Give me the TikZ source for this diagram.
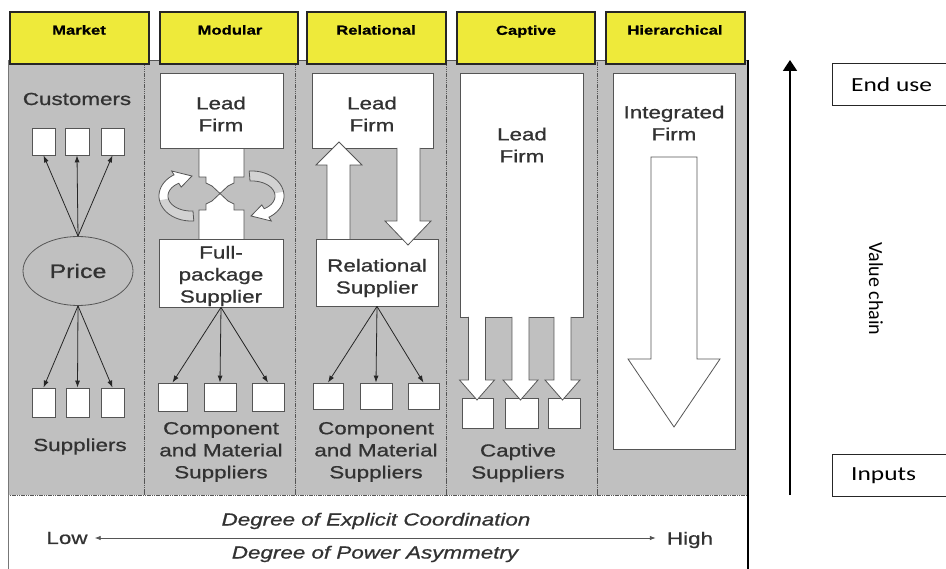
\documentclass[tikz,border=0pt]{standalone}
\usepackage{fontspec}
\usepackage{graphicx}
\usetikzlibrary{arrows.meta,shapes.geometric}
\newfontfamily\dfont{Liberation Sans}[FakeStretch=1.28,FakeBold=0.8]
\newfontfamily\cfont{Carlito}[FakeStretch=1.27]
\newfontfamily\vfont{Carlito}
\definecolor{panel}{RGB}{192,192,192}
\definecolor{hdr}{RGB}{238,234,58}
\definecolor{tcol}{RGB}{50,50,50}
\definecolor{edge}{RGB}{85,85,85}
\newcommand{\circband}[1]{\path[#1] plot[domain=275:122,samples=40] ({191+32*cos(\x)},{196-25*sin(\x)}) -- ({191+36.5*cos(122)},{196-29.5*sin(122)}) -- ({191+27.5*cos(88)},{196-20*sin(88)}) -- ({191+18.5*cos(122)},{196-10.5*sin(122)}) -- plot[domain=122:275,samples=40] ({191+23*cos(\x)},{196-15*sin(\x)}) -- cycle;}
\newcommand{\circtail}[1]{\path[#1] plot[domain=275:190,samples=30] ({191+32*cos(\x)},{196-25*sin(\x)}) -- plot[domain=190:275,samples=30] ({191+23*cos(\x)},{196-15*sin(\x)}) -- cycle;}
\tikzset{
 wbox/.style={draw=edge, fill=white, line width=0.8pt, inner sep=0pt},
 hbox/.style={draw=black!85, fill=hdr, line width=1.2pt, inner sep=0pt, minimum height=52pt},
 htxt/.style={font=\dfont\bfseries\fontsize{13}{15}\selectfont, text=black, inner sep=0pt},
 btxt/.style={font=\dfont\fontsize{17.5}{22}\selectfont, text=tcol, align=center, inner sep=0pt},
 itxt/.style={font=\dfont\itshape\fontsize{17.5}{22}\selectfont, text=tcol, inner sep=0pt},
 rtxt/.style={font=\cfont\fontsize{20}{24}\selectfont, text=black, inner sep=0pt},
 con/.style={draw=black!85, line width=0.8pt, -{Latex[length=7pt,width=5pt]}},
 hol/.style={draw=edge, fill=white, line width=0.8pt, line join=miter},
 colsep/.style={draw=edge, line width=0.9pt, dash pattern=on 1.5pt off 0.7pt},
}
\begin{document}
\begin{tikzpicture}[x=1pt,y=-1pt]
\useasboundingbox (0,0) rectangle (946,569);
% frame and panel
\fill[panel] (8,60) rectangle (748,495);
\draw[edge, line width=0.8pt] (8,60) -- (748,60);
\draw[edge, line width=0.8pt, dash pattern=on 1.2pt off 0.6pt] (8,495) -- (748,495);
\draw[edge!80, line width=1pt] (8,60) -- (8,569);
\draw[black, line width=1.8pt] (748,60) -- (748,569);
\foreach \sx in {144,295,446,597} \draw[colsep] (\sx,60) -- (\sx,495);
% headers
\node[hbox, minimum width=139pt] (hm) at (79.5,38) {};
\node[hbox, minimum width=138pt] (hmo) at (229,38) {};
\node[hbox, minimum width=139pt] (hr) at (376.5,38) {};
\node[hbox, minimum width=138pt] (hc) at (526,38) {};
\node[hbox, minimum width=139pt] (hh) at (675.5,38) {};
\node[htxt] (tm) at (79,30) {Market};
\node[htxt] (tmo) at (230,30) {Modular};
\node[htxt] (tr) at (376,30) {Relational};
\node[htxt] (tc) at (526,31.5) {Captive};
\node[htxt] (th) at (675,30) {Hierarchical};
% ---- column 1 : market
\node[btxt] (tcust) at (77,99) {Customers};
\node[wbox, minimum width=23pt, minimum height=27pt] (cu1) at (43.5,141.5) {};
\node[wbox, minimum width=24pt, minimum height=27pt] (cu2) at (77,141.5) {};
\node[wbox, minimum width=23pt, minimum height=27pt] (cu3) at (112.5,141.5) {};
\node[ellipse, draw=edge, fill=panel, line width=0.8pt, minimum width=110pt, minimum height=69pt, inner sep=0pt, font=\dfont\fontsize{19.5}{22}\selectfont, text=tcol] (price) at (78,271) {Price};
\node[wbox, minimum width=23pt, minimum height=29pt] (su1) at (43.5,402.5) {};
\node[wbox, minimum width=23pt, minimum height=29pt] (su2) at (77.5,402.5) {};
\node[wbox, minimum width=23pt, minimum height=29pt] (su3) at (112.5,402.5) {};
\node[btxt] (tsup1) at (80,446.5) {Suppliers};
\foreach \b in {cu1,cu2,cu3} \draw[con] (price.north) -- (\b.south);
\foreach \b in {su1,su2,su3} \draw[con] (price.south) -- (\b.north);
% ---- column 2 : modular
\draw[hol] (199,146) -- (244,146) -- (244,177) -- (234,177) -- (234,183) -- (228,186) -- (220,193.5) -- (212,186) -- (206,183) -- (206,177) -- (199,177) -- cycle;
\draw[hol] (199,241) -- (244,241) -- (244,210) -- (234,210) -- (234,204) -- (228,201) -- (220,193.5) -- (212,201) -- (206,204) -- (206,210) -- (199,210) -- cycle;
\node[wbox, minimum width=123pt, minimum height=75pt] (lf2) at (221.5,110.5) {};
\node[wbox, minimum width=124pt, minimum height=68pt] (fps) at (221,273) {};
\node[btxt] (tlf2) at (221,114) {Lead\\Firm};
\node[btxt] (tfps) at (221,276) {Full-\\package\\Supplier};
\circband{fill=white}
\circtail{fill=gray!35}
\circband{draw=edge, line width=0.8pt}
\begin{scope}[rotate around={180:(221.5,196)}]
\circband{fill=white}
\circtail{fill=gray!35}
\circband{draw=edge, line width=0.8pt}
\end{scope}
\node[wbox, minimum width=29pt, minimum height=28pt] (m1) at (172.5,397) {};
\node[wbox, minimum width=32pt, minimum height=28pt] (m2) at (220,397) {};
\node[wbox, minimum width=32pt, minimum height=28pt] (m3) at (268,397) {};
\foreach \b in {m1,m2,m3} \draw[con] (fps.south) -- (\b.north);
\node[btxt] (tcm2) at (221,452) {Component\\and Material\\Suppliers};
% ---- column 3 : relational
\node[wbox, minimum width=121pt, minimum height=75pt] (lf3) at (372.5,110.5) {};
\node[wbox, minimum width=122pt, minimum height=67pt] (rs) at (377,272.5) {};
\node[btxt] (tlf3) at (372,114) {Lead\\Firm};
\node[btxt] (trs) at (377,278) {Relational\\Supplier};
\draw[hol] (327,239) -- (327,165) -- (316,165) -- (339,142) -- (362,165) -- (350,165) -- (350,239);
\draw[hol] (397,148) -- (397,221) -- (385,221) -- (408,245) -- (431,221) -- (420,221) -- (420,148);
\node[wbox, minimum width=30pt, minimum height=26pt] (r1) at (328,396) {};
\node[wbox, minimum width=32pt, minimum height=26pt] (r2) at (376,396) {};
\node[wbox, minimum width=31pt, minimum height=26pt] (r3) at (423.5,396) {};
\foreach \b in {r1,r2,r3} \draw[con] (rs.south) -- (\b.north);
\node[btxt] (tcm3) at (376,452) {Component\\and Material\\Suppliers};
% ---- column 4 : captive
\node[wbox, minimum width=123pt, minimum height=244pt] (lf4) at (521.5,195) {};
\node[btxt] (tlf4) at (522,145) {Lead\\Firm};
\node[wbox, minimum width=31pt, minimum height=30pt] (cs1) at (477.5,413) {};
\node[wbox, minimum width=33pt, minimum height=30pt] (cs2) at (521.5,413) {};
\node[wbox, minimum width=32pt, minimum height=30pt] (cs3) at (564,413) {};
\foreach \cx in {477,520.5,562.5}
  \draw[hol] (\cx-8.5,317) -- (\cx-8.5,380) -- (\cx-17.5,380) -- (\cx,400) -- (\cx+17.5,380) -- (\cx+8.5,380) -- (\cx+8.5,317);
\node[btxt] (tcs) at (518,463) {Captive\\Suppliers};
% ---- column 5 : hierarchical
\node[wbox, minimum width=122pt, minimum height=376pt] (if5) at (674,261) {};
\node[btxt] (tif) at (674,123) {Integrated\\Firm};
\draw[hol] (651,157) -- (651,359) -- (628,359) -- (674,427) -- (720,359) -- (697,359) -- (697,157) -- cycle;
% ---- bottom axis
\node[itxt] (tcoord) at (376,521) {Degree of Explicit Coordination};
\node[itxt] (tpow) at (375,554) {Degree of Power Asymmetry};
\node[btxt] (low) at (67,538) {Low};
\node[btxt] (high) at (690,540) {High};
\draw[draw=edge, line width=0.8pt, {Latex[length=6pt,width=4.5pt]}-{Latex[length=6pt,width=4.5pt]}, shorten <=7pt, shorten >=11pt] (low.east) -- (low.east -| high.west);
% ---- value chain
\coordinate (vb) at (790,495);
\coordinate (vt) at (790,60);
\draw[black, line width=1.8pt, -{Triangle[length=11pt,width=14pt]}] (vb) -- (vt);
\draw[black!85, line width=1pt] (946,64) -| (832,106) -- (946,106);
\node[rtxt, anchor=west] (enduse) at (851,85) {End use};
\draw[black!85, line width=1pt] (946,455) -| (832,496) -- (946,496);
\node[rtxt, anchor=west] (inputs) at (851,476) {Inputs};
\node[rotate=-90, inner sep=0pt, font=\vfont\fontsize{20}{24}\selectfont] (vc) at (876,289) {Value chain};
\end{tikzpicture}
\end{document}
